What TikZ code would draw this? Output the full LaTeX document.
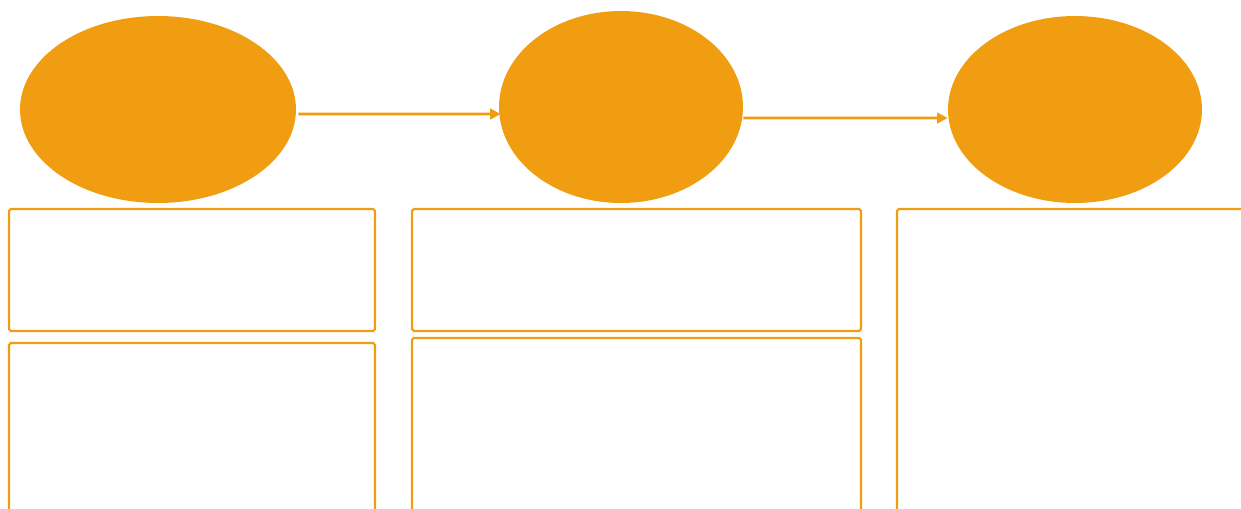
\documentclass[tikz,border=0pt]{standalone}
\definecolor{amber1}{RGB}{240, 157, 17}
\usepackage{tikz}
\usetikzlibrary{shapes, arrows.meta, positioning}

\begin{document}
\begin{tikzpicture}[x=0.02cm, y=-0.02cm,
    stage/.style={ellipse, fill=amber1, draw=none, inner sep=0pt},
    panel/.style={draw=amber1, line width=1.2pt, rounded corners=1pt, inner sep=0pt},
    flow/.style={draw=amber1, line width=1.7pt, -{Triangle[length=6pt, width=6pt]}}]
  \useasboundingbox (0,0) rectangle (1241,508);
  \clip (0,0) rectangle (1241,508);

  % stages
  \node[stage, minimum width=5.52cm, minimum height=3.74cm] (stageA) at (158,109.5) {};
  \node[stage, minimum width=4.88cm, minimum height=3.84cm] (stageB) at (621,107) {};
  \node[stage, minimum width=5.08cm, minimum height=3.74cm] (stageC) at (1075,109.5) {};

  \draw[flow] ([xshift=0.04cm, yshift=-0.09cm]stageA.east) -- ([xshift=0.04cm, yshift=-0.14cm]stageB.west);
  \draw[flow] ([yshift=-0.22cm]stageB.east) -- ([yshift=-0.17cm]stageC.west);

  % panels
  \node[panel, minimum width=7.32cm, minimum height=2.44cm] (panelAtop) at (192,270) {};
  \node[panel, minimum width=7.32cm, minimum height=4.34cm] (panelAbot) at (192,451.5) {};
  \node[panel, minimum width=8.98cm, minimum height=2.44cm] (panelBtop) at (636.5,270) {};
  \node[panel, minimum width=8.98cm, minimum height=4.44cm] (panelBbot) at (636.5,449) {};
  \node[panel, minimum width=8.06cm, minimum height=7.02cm] (panelC) at (1098.5,384.5) {};
\end{tikzpicture}
\end{document}
